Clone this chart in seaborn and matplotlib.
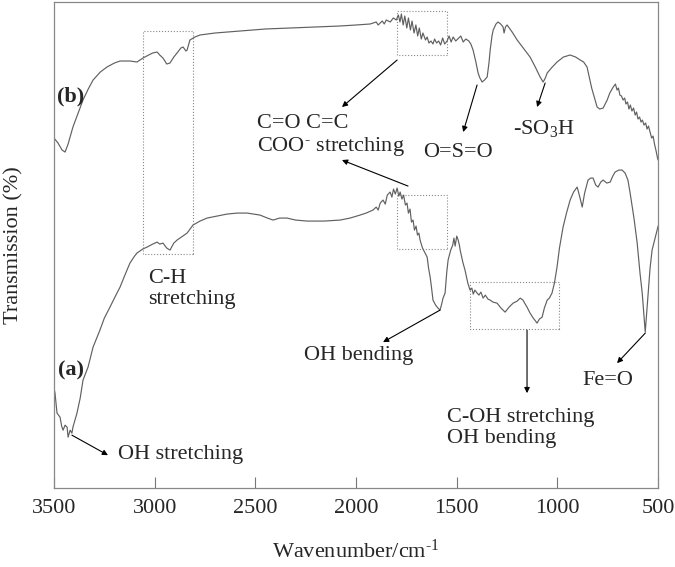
import numpy as np
import pandas as pd
import seaborn as sns
from matplotlib import pyplot as plt
from matplotlib.patches import Rectangle

#%% # Spectra (wavenumber in cm-1, transmission in arbitrary units)

wn_b = [3500, 3480, 3460, 3445, 3430, 3406, 3380, 3356, 3330, 3306, 3270, 3237, 3200, 3172,
        3123, 3088, 3058, 3030, 3010, 2988, 2975, 2959, 2940, 2924, 2905, 2889, 2870, 2859,
        2845, 2839, 2825, 2800, 2775, 2700, 2576, 2450, 2328, 2200, 2079, 2000, 1930, 1900,
        1890, 1870, 1860, 1850, 1830, 1815, 1800, 1790, 1782, 1775, 1766, 1758, 1748, 1740,
        1730, 1722, 1712, 1703, 1694, 1686, 1676, 1668, 1655, 1647, 1638, 1628, 1618, 1610,
        1600, 1590, 1580, 1570, 1560, 1548, 1538, 1528, 1518, 1505, 1495, 1480, 1468, 1455,
        1440, 1430, 1419, 1405, 1394, 1385, 1374, 1362, 1349, 1340, 1334, 1325, 1319, 1305,
        1295, 1282, 1270, 1265, 1258, 1250, 1225, 1200, 1170, 1136, 1110, 1086, 1071, 1060,
        1051, 1030, 1002, 970, 937, 910, 887, 870, 853, 830, 803, 790, 773, 753, 740, 723,
        712, 704, 697, 690, 682, 674, 666, 660, 652, 645, 638, 630, 622, 614, 607, 600, 592,
        585, 578, 570, 562, 555, 548, 540, 532, 525, 518, 510, 503, 500]
tr_b = [350, 345, 338, 336, 344, 361, 375, 388, 399, 408, 416, 421, 425, 427,
        427, 426, 430, 433, 435, 436, 433, 430, 424, 425, 431, 435, 440, 441,
        437, 438, 448, 451, 453, 455, 457, 459, 460, 461, 462, 463, 464, 466,
        463, 467, 464, 468, 466, 470, 468, 473, 466, 474, 463, 472, 460, 470,
        458, 467, 455, 463, 452, 460, 449, 455, 448, 451, 445, 447, 444, 449,
        445, 447, 443, 450, 444, 447, 452, 446, 451, 447, 449, 452, 446, 449,
        447, 444, 438, 426, 415, 410, 406, 408, 411, 425, 438, 452, 458, 464,
        466, 464, 461, 455, 461, 463, 456, 448, 440, 431, 421, 411, 406, 410,
        415, 420, 426, 431, 433, 431, 428, 426, 421, 400, 381, 379, 380, 388, 395, 401,
        404, 398, 400, 393, 392, 388, 390, 384, 386, 379, 383, 377, 380, 373, 376, 369, 371,
        366, 368, 363, 365, 359, 362, 356, 350, 352, 344, 337, 330, 328]

wn_a = [3500, 3495, 3485, 3470, 3462, 3455, 3445, 3435, 3430, 3420, 3411, 3406, 3386, 3370,
        3356, 3331, 3306, 3272, 3250, 3222, 3195, 3172, 3150, 3123, 3100, 3088, 3060, 3038,
        3010, 2988, 2975, 2959, 2940, 2924, 2905, 2889, 2860, 2839, 2810, 2775, 2740, 2690,
        2641, 2590, 2541, 2510, 2477, 2440, 2412, 2380, 2343, 2300, 2243, 2160, 2079, 2030,
        1980, 1950, 1916, 1900, 1890, 1880, 1866, 1855, 1845, 1831, 1822, 1814, 1805, 1796,
        1788, 1781, 1772, 1764, 1755, 1747, 1740, 1732, 1725, 1717, 1710, 1702, 1695, 1688,
        1682, 1670, 1660, 1647, 1640, 1632, 1625, 1618, 1605, 1593, 1583, 1575, 1568, 1558,
        1550, 1543, 1530, 1520, 1514, 1508, 1500, 1493, 1487, 1483, 1470, 1459, 1445, 1434,
        1425, 1418, 1410, 1399, 1390, 1380, 1369, 1358, 1345, 1334, 1320, 1300, 1280, 1260,
        1240, 1220, 1200, 1185, 1171, 1160, 1151, 1136, 1120, 1101, 1090, 1076, 1065, 1051,
        1040, 1027, 1015, 1002, 990, 972, 955, 937, 920, 902, 890, 877, 865, 848, 835, 823,
        810, 798, 785, 773, 755, 738, 725, 714, 695, 679, 664, 650, 639, 620, 604, 590, 579,
        570, 564, 557, 550, 540, 530, 515, 505, 500]
tr_a = [100, 95, 75, 71, 62, 58, 63, 61, 51, 58, 55, 61, 75, 90,
        108, 121, 141, 158, 170, 181, 192, 201, 212, 225, 232, 235, 239, 241,
        244, 246, 244, 245, 240, 238, 245, 248, 252, 255, 263, 267, 270, 272,
        274, 275, 275, 274, 273, 270, 268, 270, 270, 268, 267, 267, 268, 270,
        273, 275, 278, 281, 278, 285, 288, 284, 293, 296, 291, 299, 294, 300,
        292, 296, 289, 293, 283, 285, 275, 279, 266, 268, 258, 262, 253, 255,
        248, 240, 236, 231, 220, 211, 200, 188, 183, 180, 178, 184, 190, 195,
        215, 228, 238, 243, 250, 242, 252, 248, 243, 238, 226, 218, 205, 198,
        200, 194, 198, 195, 193, 196, 190, 193, 189, 188, 186, 185, 180, 176,
        181, 185, 187, 190, 188, 184, 181, 175, 170, 165, 169, 171, 180, 188,
        190, 195, 205, 221, 240, 261, 275, 288, 296, 301, 292, 281, 295, 308, 310, 310,
        303, 301, 306, 308, 305, 306, 312, 316, 318, 318, 315, 308, 295, 270, 245, 215, 195,
        172, 156, 175, 195, 220, 238, 250, 258, 262]

ticks = [3500, 3000, 2500, 2000, 1500, 1000, 500]

spectra = pd.concat([
    pd.DataFrame({'wavenumber': wn_b, 'transmission': tr_b, 'sample': 'b'}),
    pd.DataFrame({'wavenumber': wn_a, 'transmission': tr_a, 'sample': 'a'}),
])

#%% # Plot

sns.set_style('white')
plt.rcParams['font.family'] = ['Liberation Serif', 'DejaVu Serif']
plt.rcParams['mathtext.fontset'] = 'custom'
plt.rcParams['mathtext.rm'] = 'Liberation Serif'
plt.rcParams['mathtext.it'] = 'Liberation Serif:italic'
plt.rcParams['mathtext.bf'] = 'Liberation Serif:bold'

fig = plt.figure(figsize=(6.75, 5.67), dpi=100)
ax = fig.add_axes([0.08, 0.139, 0.895, 0.8575])

sns.lineplot(data=spectra, x='wavenumber', y='transmission', hue='sample',
             palette={'a': '#606060', 'b': '#606060'}, units='sample', estimator=None,
             sort=False, legend=False, lw=0.85, ax=ax)

ax.set_xlim(3500, 500)
ax.set_ylim(0, 486)
ax.set_xticks(ticks)
ax.set_xticklabels([str(t) for t in ticks])
ax.set_yticks([])
ax.tick_params(axis='x', direction='in', length=8, width=0.8, color='#777777',
               labelsize=16, pad=8, bottom=True)
for s in ax.spines.values():
    s.set_color('#888888')
    s.set_linewidth(0.9)

ax.set_xlabel(r'Wavenumber/cm$^{\text{-1}}$', fontsize=16)
ax.set_ylabel('Transmission (%)', fontsize=16)
ax.xaxis.set_label_coords(0.5, -0.105)
ax.yaxis.set_label_coords(-0.05, 0.5)

# dotted boxes around the bands
box_kw = dict(fill=False, ls=':', lw=0.8, ec='#888888')
ax.add_patch(Rectangle((2810, 234), 248, 223, **box_kw))
ax.add_patch(Rectangle((1548, 433), 248, 44, **box_kw))
ax.add_patch(Rectangle((1548, 239), 248, 54, **box_kw))
ax.add_patch(Rectangle((992, 159), 442, 47, **box_kw))

arrow = dict(arrowstyle='-|>', color='black', lw=0.8, mutation_scale=8, shrinkA=0, shrinkB=0)

ax.text(3416, 392, '(b)', fontsize=16, fontweight='bold', ha='center', va='center')
ax.text(3416, 118, '(a)', fontsize=16, fontweight='bold', ha='center', va='center')

ax.text(2492, 352, 'C=O C=C\n' + r'COO$^{\text{-}}$ stretching', fontsize=16, ha='left',
        va='center', linespacing=1.15)
ax.annotate('', xy=(2070, 381), xytext=(1796, 428), arrowprops=arrow)
ax.annotate('', xy=(2070, 328), xytext=(1742, 302), arrowprops=arrow)

ax.text(1493, 336, 'O=S=O', fontsize=16, ha='center', va='center')
ax.annotate('', xy=(1468, 356), xytext=(1399, 403), arrowprops=arrow)

ax.text(1066, 360, '-SO$_3$H', fontsize=16, ha='center', va='center')
ax.annotate('', xy=(1101, 381), xytext=(1061, 405), arrowprops=arrow)

ax.text(3033, 199, 'C-H\nstretching', fontsize=16, ha='left', va='center', linespacing=1.15)

ax.text(2258, 133, 'OH bending', fontsize=16, ha='left', va='center')
ax.annotate('', xy=(1866, 146), xytext=(1583, 178), arrowprops=arrow)

ax.text(1548, 60, 'C-OH stretching\nOH bending', fontsize=16, ha='left', va='center',
        linespacing=1.15)
ax.annotate('', xy=(1151, 95), xytext=(1151, 158), arrowprops=arrow)

ax.text(748, 108, 'Fe=O', fontsize=16, ha='center', va='center')
ax.annotate('', xy=(704, 125), xytext=(564, 155), arrowprops=arrow)

ax.text(3182, 34, 'OH stretching', fontsize=16, ha='left', va='center')
ax.annotate('', xy=(3232, 33), xytext=(3411, 53), arrowprops=arrow)

plt.savefig('out.png', dpi=100)
